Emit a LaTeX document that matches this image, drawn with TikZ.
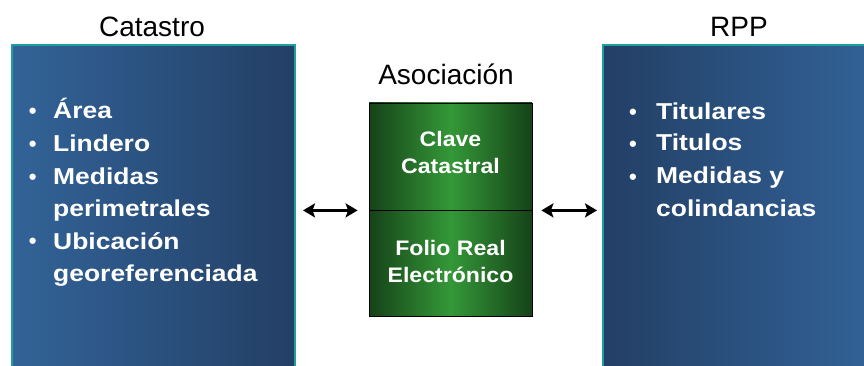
\documentclass[tikz,border=0pt]{standalone}
\usepackage{fontspec}
\setmainfont{Liberation Sans}
\newfontfamily\bulfont{Liberation Sans}[FakeStretch=1.15]
\newfontfamily\grnfont{Liberation Sans}[FakeStretch=1.1]
\usetikzlibrary{arrows.meta}
\definecolor{bluelight}{RGB}{50,99,152}
\definecolor{bluedark}{RGB}{35,63,101}
\definecolor{tealb}{RGB}{30,158,158}
\definecolor{grnmid}{RGB}{52,152,56}
\definecolor{grndark}{RGB}{22,66,24}
\tikzset{
  bigbox/.style={draw=tealb, line width=2pt, inner sep=0pt, rectangle},
  grnbox/.style={draw=black, line width=0.8pt, inner sep=0pt, rectangle,
    left color=grndark, right color=grndark, middle color=grnmid,
    minimum width=163pt},
  titletxt/.style={anchor=base, inner sep=0pt, text=black,
    font=\fontsize{28}{28}\selectfont},
  btxt/.style={anchor=base west, inner sep=0pt, text=white,
    font=\bulfont\bfseries\fontsize{23}{23}\selectfont},
  bdot/.style={anchor=base, inner sep=0pt, text=white,
    font=\bfseries\fontsize{22}{22}\selectfont},
  gtxt/.style={anchor=base, inner sep=0pt, text=white,
    font=\grnfont\bfseries\fontsize{21}{21}\selectfont},
  dbl/.style={line width=3.5pt, black,
    {Stealth[length=12pt,width=14pt,inset=2.5pt]}-{Stealth[length=12pt,width=14pt,inset=2.5pt]}}
}
\begin{document}
\begin{tikzpicture}[x=1pt,y=-1pt]
\useasboundingbox (0,0) rectangle (864,366);
\fill[white] (0,0) rectangle (864,366);
\clip (0,0) rectangle (864,366);

% big boxes
\node[bigbox, left color=bluelight, right color=bluedark,
      minimum width=283pt, minimum height=330pt] (cat) at (153.5,210) {};
\node[bigbox, left color=bluedark, right color=bluelight,
      minimum width=277pt, minimum height=330pt] (rpp) at (741.5,210) {};

% green boxes
\node[grnbox, minimum height=107pt] (clave) at (450.5,156.5) {};
\node[grnbox, minimum height=106pt] (folio) at (450.5,263) {};

% titles
\node[titletxt] (tcat) at (152,37) {Catastro};
\node[titletxt] (trpp) at (739,37) {RPP};
\node[titletxt] (tasoc) at (446,85) {Asociación};

% left list
\node[bdot] (lb1) at (32.7,118.5) {•};
\node[bdot] (lb2) at (32.7,151.5) {•};
\node[bdot] (lb3) at (32.7,184.5) {•};
\node[bdot] (lb4) at (32.7,248.5) {•};
\node[btxt] (l1) at (53,119) {Área};
\node[btxt] (l2) at (53,152) {Lindero};
\node[btxt] (l3) at (53,185) {Medidas};
\node[btxt] (l4) at (53,216) {perimetrales};
\node[btxt] (l5) at (53,249) {Ubicación};
\node[btxt] (l6) at (53,281) {georeferenciada};

% right list
\node[bdot] (rb1) at (633,119.5) {•};
\node[bdot] (rb2) at (633,151.5) {•};
\node[bdot] (rb3) at (633,184.5) {•};
\node[btxt] (r1) at (656,120) {Titulares};
\node[btxt] (r2) at (656,151) {Titulos};
\node[btxt] (r3) at (656,184) {Medidas y};
\node[btxt] (r4) at (656,216) {colindancias};

% green texts
\node[gtxt] (g1) at (450.5,147) {Clave};
\node[gtxt] (g2) at (450.5,174) {Catastral};
\node[gtxt] (g3) at (450.5,255) {Folio Real};
\node[gtxt] (g4) at (450.5,282) {Electrónico};

% arrows
\draw[dbl] ([xshift=7pt]cat.east |- clave.south) -- ([xshift=-11pt]clave.south west);
\draw[dbl] ([xshift=9pt]clave.south east) -- ([xshift=-5pt]rpp.west |- clave.south);
\end{tikzpicture}
\end{document}
